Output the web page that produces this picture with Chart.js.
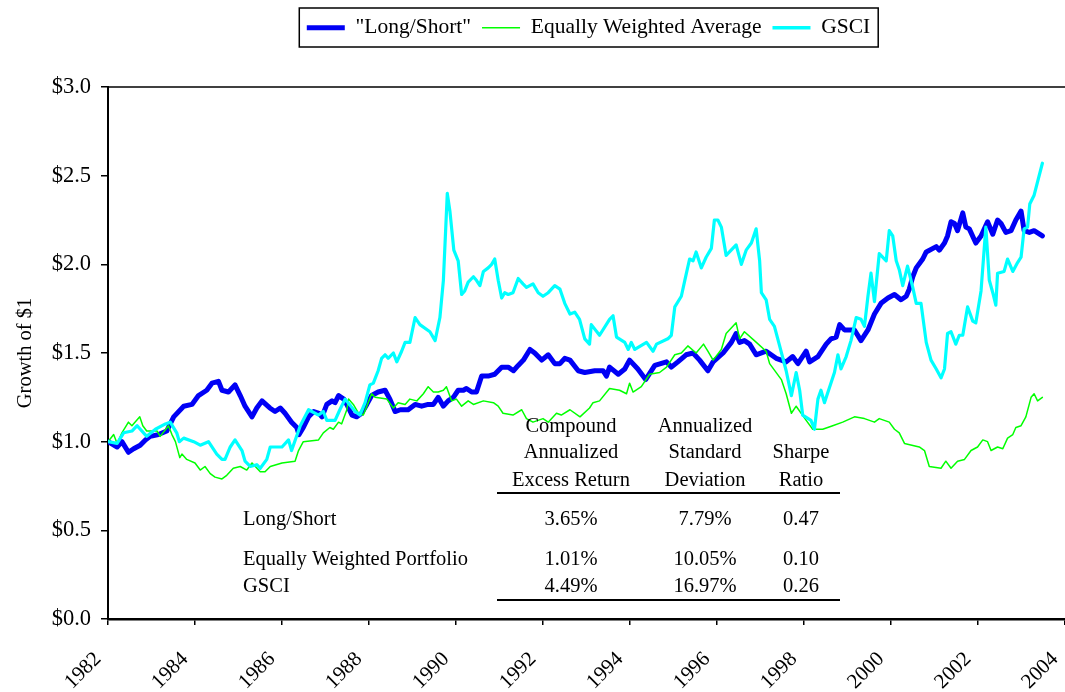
<!DOCTYPE html>
<html>
<head>
<meta charset="utf-8">
<script src="https://cdn.jsdelivr.net/npm/chart.js@4.4.1/dist/chart.umd.min.js"></script>
<style>
  html, body { margin: 0; padding: 0; background: #ffffff; overflow: hidden; }
  #wrap { width: 1065px; height: 692px; }
</style>
</head>
<body>
<div id="wrap"><canvas id="c" width="1065" height="692"></canvas></div>
<script>
// ---------------- DATA ----------------
const seriesNames = ['"Long/Short"', 'Equally Weighted Average', 'GSCI'];

const lsYears = [1982.00,1982.21,1982.32,1982.47,1982.59,1982.74,1982.86,1982.97,1983.16,1983.35,1983.51,1983.74,1983.93,1984.08,1984.27,1984.39,1984.54,1984.62,1984.77,1984.92,1985.04,1985.15,1985.31,1985.42,1985.54,1985.72,1985.84,1985.96,1986.07,1986.22,1986.34,1986.39,1986.49,1986.61,1986.73,1986.85,1986.92,1987.03,1987.15,1987.22,1987.30,1987.42,1987.49,1987.61,1987.72,1987.83,1987.95,1988.06,1988.21,1988.37,1988.48,1988.60,1988.72,1988.90,1989.06,1989.21,1989.36,1989.48,1989.59,1989.71,1989.82,1989.94,1990.05,1990.17,1990.24,1990.36,1990.47,1990.59,1990.74,1990.89,1991.05,1991.20,1991.32,1991.43,1991.55,1991.70,1991.81,1991.97,1992.12,1992.27,1992.39,1992.50,1992.62,1992.81,1992.96,1993.19,1993.38,1993.46,1993.53,1993.73,1993.88,1993.99,1994.18,1994.36,1994.57,1994.84,1994.95,1995.10,1995.29,1995.45,1995.60,1995.79,1995.91,1996.14,1996.33,1996.44,1996.52,1996.63,1996.75,1996.90,1997.13,1997.36,1997.59,1997.74,1997.86,1998.05,1998.13,1998.32,1998.51,1998.62,1998.74,1998.82,1998.93,1999.16,1999.31,1999.47,1999.62,1999.77,1999.93,2000.08,2000.23,2000.35,2000.42,2000.50,2000.58,2000.73,2000.81,2001.04,2001.11,2001.23,2001.30,2001.38,2001.46,2001.53,2001.65,2001.72,2001.80,2001.95,2002.07,2002.22,2002.34,2002.45,2002.53,2002.64,2002.76,2002.87,2002.99,2003.06,2003.18,2003.29,2003.48];
const lsValues = [1.00,0.97,1.00,0.94,0.96,0.98,1.01,1.03,1.04,1.06,1.14,1.20,1.21,1.26,1.29,1.33,1.34,1.29,1.28,1.32,1.26,1.20,1.14,1.19,1.23,1.19,1.17,1.19,1.16,1.11,1.08,1.04,1.08,1.14,1.17,1.16,1.14,1.21,1.23,1.22,1.26,1.24,1.21,1.15,1.14,1.16,1.21,1.26,1.28,1.29,1.24,1.17,1.18,1.18,1.21,1.20,1.21,1.21,1.25,1.20,1.23,1.25,1.29,1.29,1.30,1.28,1.28,1.37,1.37,1.38,1.42,1.42,1.40,1.43,1.46,1.52,1.50,1.46,1.49,1.44,1.44,1.47,1.46,1.40,1.39,1.40,1.40,1.37,1.42,1.38,1.41,1.46,1.41,1.35,1.43,1.45,1.42,1.45,1.49,1.50,1.46,1.40,1.45,1.50,1.56,1.61,1.56,1.57,1.55,1.49,1.51,1.47,1.45,1.48,1.44,1.51,1.45,1.48,1.55,1.58,1.59,1.66,1.63,1.63,1.57,1.63,1.72,1.78,1.81,1.83,1.80,1.82,1.86,1.93,1.98,2.03,2.07,2.10,2.08,2.12,2.16,2.24,2.23,2.19,2.29,2.21,2.20,2.12,2.16,2.24,2.17,2.25,2.23,2.18,2.19,2.25,2.30,2.19,2.18,2.19,2.16];

const ewYears = [1982.00,1982.13,1982.21,1982.32,1982.47,1982.55,1982.73,1982.80,1982.89,1983.13,1983.20,1983.39,1983.47,1983.55,1983.65,1983.70,1983.81,1984.00,1984.12,1984.23,1984.35,1984.46,1984.62,1984.73,1984.88,1985.04,1985.19,1985.31,1985.50,1985.61,1985.73,1986.00,1986.30,1986.38,1986.49,1986.84,1986.95,1987.10,1987.18,1987.30,1987.37,1987.49,1987.53,1987.64,1987.76,1987.87,1987.95,1988.06,1988.14,1988.41,1988.56,1988.67,1988.83,1988.94,1989.10,1989.25,1989.36,1989.48,1989.59,1989.71,1989.78,1989.90,1990.01,1990.13,1990.28,1990.40,1990.63,1990.86,1990.97,1991.08,1991.31,1991.51,1991.62,1991.77,1992.00,1992.12,1992.31,1992.42,1992.62,1992.85,1993.07,1993.15,1993.30,1993.53,1993.76,1993.92,1993.99,1994.07,1994.26,1994.45,1994.68,1994.84,1995.03,1995.18,1995.33,1995.52,1995.69,1995.79,1995.91,1996.10,1996.21,1996.44,1996.52,1996.63,1996.86,1997.13,1997.21,1997.48,1997.59,1997.71,1997.82,1998.05,1998.20,1998.43,1998.66,1998.89,1999.16,1999.39,1999.62,1999.73,1999.96,2000.08,2000.19,2000.31,2000.65,2000.77,2000.88,2001.15,2001.26,2001.38,2001.53,2001.69,2001.84,2001.99,2002.11,2002.22,2002.30,2002.45,2002.57,2002.68,2002.80,2002.87,2002.99,2003.10,2003.22,2003.29,2003.37,2003.48];
const ewValues = [1.00,1.04,0.99,1.05,1.11,1.09,1.14,1.09,1.06,1.06,1.03,1.09,1.04,1.00,0.91,0.93,0.90,0.88,0.84,0.86,0.82,0.80,0.79,0.81,0.85,0.86,0.84,0.88,0.83,0.83,0.86,0.88,0.89,0.95,1.00,1.01,1.05,1.08,1.07,1.11,1.10,1.18,1.24,1.21,1.16,1.15,1.20,1.27,1.25,1.24,1.19,1.22,1.21,1.24,1.23,1.27,1.31,1.28,1.28,1.29,1.31,1.23,1.24,1.20,1.23,1.21,1.23,1.22,1.20,1.16,1.15,1.18,1.13,1.11,1.13,1.11,1.16,1.15,1.18,1.14,1.19,1.22,1.23,1.30,1.29,1.27,1.33,1.28,1.31,1.38,1.39,1.42,1.49,1.50,1.54,1.50,1.55,1.51,1.46,1.52,1.61,1.67,1.58,1.62,1.57,1.51,1.44,1.35,1.27,1.16,1.20,1.12,1.07,1.07,1.09,1.11,1.14,1.13,1.11,1.13,1.11,1.07,1.05,0.99,0.97,0.95,0.86,0.85,0.89,0.85,0.89,0.90,0.95,0.97,1.01,1.00,0.95,0.97,0.96,1.02,1.04,1.08,1.09,1.14,1.25,1.27,1.23,1.25];

const gsYears = [1982.00,1982.21,1982.36,1982.55,1982.67,1982.89,1983.09,1983.32,1983.43,1983.58,1983.64,1983.74,1983.97,1984.12,1984.31,1984.50,1984.62,1984.69,1984.81,1984.92,1985.08,1985.15,1985.27,1985.42,1985.50,1985.65,1985.73,1986.00,1986.15,1986.22,1986.42,1986.61,1986.84,1986.95,1987.03,1987.22,1987.33,1987.45,1987.68,1987.79,1987.91,1988.02,1988.10,1988.21,1988.29,1988.37,1988.44,1988.56,1988.64,1988.75,1988.83,1988.94,1989.06,1989.17,1989.40,1989.52,1989.63,1989.71,1989.80,1989.86,1989.95,1990.05,1990.13,1990.20,1990.28,1990.40,1990.47,1990.55,1990.63,1990.74,1990.82,1990.89,1990.97,1991.05,1991.12,1991.20,1991.31,1991.43,1991.54,1991.62,1991.77,1991.89,1992.00,1992.12,1992.27,1992.39,1992.50,1992.62,1992.73,1992.84,1992.96,1993.07,1993.11,1993.30,1993.53,1993.61,1993.69,1993.88,1993.96,1994.03,1994.11,1994.38,1994.53,1994.61,1994.87,1994.95,1995.03,1995.18,1995.26,1995.37,1995.45,1995.52,1995.64,1995.75,1995.87,1995.94,1996.02,1996.10,1996.21,1996.44,1996.56,1996.67,1996.79,1996.90,1996.98,1997.02,1997.13,1997.21,1997.32,1997.44,1997.59,1997.71,1997.82,1997.90,1997.97,1998.16,1998.24,1998.32,1998.39,1998.47,1998.70,1998.78,1998.85,1998.97,1999.08,1999.20,1999.31,1999.39,1999.47,1999.54,1999.62,1999.73,1999.89,1999.96,2000.04,2000.12,2000.19,2000.27,2000.38,2000.50,2000.58,2000.69,2000.81,2000.92,2001.04,2001.15,2001.23,2001.30,2001.38,2001.49,2001.57,2001.65,2001.76,2001.88,2001.95,2002.07,2002.18,2002.26,2002.34,2002.41,2002.45,2002.60,2002.68,2002.80,2002.91,2002.99,2003.06,2003.14,2003.19,2003.29,2003.48];
const gsValues = [1.00,0.99,1.05,1.06,1.09,1.03,1.07,1.10,1.11,1.05,1.00,1.02,1.00,0.98,1.00,0.93,0.90,0.90,0.97,1.01,0.95,0.89,0.86,0.87,0.85,0.90,0.97,0.97,1.01,0.95,1.09,1.18,1.15,1.17,1.12,1.12,1.18,1.24,1.17,1.15,1.22,1.32,1.33,1.40,1.47,1.49,1.47,1.50,1.45,1.51,1.56,1.56,1.70,1.66,1.62,1.57,1.70,1.91,2.40,2.30,2.08,2.02,1.83,1.85,1.90,1.93,1.91,1.88,1.96,1.98,2.00,2.03,1.91,1.81,1.84,1.83,1.84,1.92,1.89,1.87,1.89,1.84,1.82,1.84,1.88,1.86,1.78,1.72,1.73,1.69,1.58,1.55,1.66,1.60,1.69,1.71,1.59,1.56,1.52,1.56,1.52,1.56,1.51,1.55,1.58,1.60,1.76,1.82,1.91,2.03,2.02,2.07,1.98,2.04,2.09,2.25,2.25,2.21,2.05,2.11,2.00,2.08,2.12,2.20,2.02,1.84,1.80,1.69,1.65,1.54,1.40,1.26,1.39,1.29,1.15,1.12,1.07,1.24,1.29,1.22,1.39,1.49,1.41,1.48,1.57,1.70,1.69,1.65,1.82,1.95,1.79,2.06,2.02,2.19,2.16,2.02,1.97,1.88,1.99,1.87,1.78,1.78,1.56,1.46,1.41,1.36,1.41,1.61,1.62,1.55,1.60,1.60,1.76,1.68,1.67,1.85,2.21,1.91,1.84,1.77,1.95,1.96,2.03,1.96,2.01,2.04,2.20,2.21,2.34,2.39,2.57];

const xTickYears = [1982,1984,1986,1988,1990,1992,1994,1996,1998,2000,2002,2004];
const yTickValues = [0,0.5,1,1.5,2,2.5,3];

const tableHeaders = [['Compound','Annualized','Excess Return'], ['Annualized','Standard','Deviation'], ['Sharpe','Ratio']];
const tableRows = ['Long/Short', 'Equally Weighted Portfolio', 'GSCI'];
const tableReturn = ['3.65%', '1.01%', '4.49%'];
const tableStdDev = ['7.79%', '10.05%', '16.97%'];
const tableSharpe = ['0.47', '0.10', '0.26'];

// ---------------- CHART ----------------
const FONT = '"Liberation Serif", "Times New Roman", serif';
Chart.defaults.font.family = FONT;
Chart.defaults.color = '#000';

function pts(xs, ys) { return xs.map((x, i) => ({ x: x, y: ys[i] })); }

const tablePlugin = {
  id: 'statsTable',
  afterDatasetsDraw(chart) {
    const ctx = chart.ctx;
    ctx.save();
    ctx.fillStyle = '#000';
    ctx.font = '20.5px ' + FONT;
    ctx.textBaseline = 'middle';
    const colX = [571, 705, 801];
    const headY = [[427, 453, 481], [427, 453, 481], [453, 481]];
    ctx.textAlign = 'center';
    tableHeaders.forEach((col, c) => col.forEach((t, r) => ctx.fillText(t, colX[c], headY[c][r])));
    const rowY = [520, 560, 587];
    tableRows.forEach((t, r) => {
      ctx.textAlign = 'left';
      ctx.fillText(t, 243, rowY[r]);
      ctx.textAlign = 'center';
      ctx.fillText(tableReturn[r], colX[0], rowY[r]);
      ctx.fillText(tableStdDev[r], colX[1], rowY[r]);
      ctx.fillText(tableSharpe[r], colX[2], rowY[r]);
    });
    ctx.strokeStyle = '#000';
    ctx.lineWidth = 2;
    [493, 600].forEach(y => {
      ctx.beginPath(); ctx.moveTo(497, y); ctx.lineTo(840, y); ctx.stroke();
    });
    ctx.restore();
  }
};

const framePlugin = {
  id: 'frame',
  afterLayout(chart) {
    const lg = chart.legend;
    if (lg) {
      lg.left += 112;
      const h = lg.height;
      lg.top = 6;
      lg.bottom = 6 + h;
    }
  },
  afterDraw(chart) {
    const ctx = chart.ctx;
    const a = chart.chartArea;
    ctx.save();
    ctx.strokeStyle = '#000';
    ctx.lineWidth = 1.5;
    ctx.beginPath(); ctx.moveTo(a.left, a.top); ctx.lineTo(a.right, a.top); ctx.stroke();
    const hb = chart.legend && chart.legend.legendHitBoxes;
    if (hb && hb.length) {
      const l = hb[0].left - 7.5;
      const last = hb[hb.length - 1];
      const r = last.left + last.width + 8;
      const t = hb[0].top - 9;
      const b = hb[0].top + hb[0].height + 8.5;
      ctx.lineWidth = 1.5;
      ctx.strokeRect(l, t, r - l, b - t);
    }
    ctx.restore();
  }
};

new Chart(document.getElementById('c'), {
  type: 'line',
  data: {
    datasets: [
      { label: seriesNames[0], data: pts(lsYears, lsValues), borderColor: '#0000F5', backgroundColor: '#0000F5', borderWidth: 5, order: 2 },
      { label: seriesNames[1], data: pts(ewYears, ewValues), borderColor: '#00FF00', backgroundColor: '#00FF00', borderWidth: 1.5, order: 1 },
      { label: seriesNames[2], data: pts(gsYears, gsValues), borderColor: '#00FFFF', backgroundColor: '#00FFFF', borderWidth: 3.2, order: 0 }
    ]
  },
  options: {
    responsive: false,
    animation: false,
    devicePixelRatio: 1,
    layout: { padding: { top: 4, left: 0, right: 0, bottom: 0 } },
    elements: {
      point: { radius: 0, hoverRadius: 0 },
      line: { tension: 0, borderJoinStyle: 'round', borderCapStyle: 'round', fill: false }
    },
    plugins: {
      tooltip: { enabled: false },
      title: { display: false },
      legend: {
        display: true,
        position: 'top',
        align: 'center',
        labels: {
          usePointStyle: true,
          pointStyle: 'line',
          pointStyleWidth: 38,
          padding: 11,
          color: '#000',
          font: { size: 21.5, family: FONT },
          sort: (a, b) => a.datasetIndex - b.datasetIndex,
          generateLabels(chart) {
            const items = Chart.defaults.plugins.legend.labels.generateLabels(chart);
            items.forEach(it => {
              const ds = chart.data.datasets[it.datasetIndex];
              it.lineWidth = it.datasetIndex === 0 ? 5 : (it.datasetIndex === 1 ? 1.5 : 3.5);
              it.strokeStyle = ds.borderColor;
              it.fillStyle = ds.borderColor;
              it.pointStyle = 'line';
              it.lineCap = 'butt';
            });
            return items;
          }
        }
      }
    },
    scales: {
      x: {
        type: 'linear',
        min: 1982,
        max: 2004,
        afterBuildTicks(scale) { scale.ticks = xTickYears.map(v => ({ value: v })); },
        afterFit(scale) { scale.height = 73; scale.paddingLeft = 0; scale.paddingRight = 0; },
        ticks: {
          callback: v => String(v),
          minRotation: 45,
          maxRotation: 45,
          padding: 22,
          labelOffset: -10,
          color: '#000',
          font: { size: 21, family: FONT }
        },
        grid: { display: true, drawOnChartArea: false, drawTicks: true, tickLength: 6, color: '#000', lineWidth: 1.5 },
        border: { display: true, color: '#000', width: 2.5 }
      },
      y: {
        type: 'linear',
        min: 0,
        max: 3,
        afterBuildTicks(scale) { scale.ticks = yTickValues.map(v => ({ value: v })); },
        afterFit(scale) { scale.width = 108; scale.paddingTop = 87; scale.paddingBottom = 0; },
        ticks: {
          callback: v => '$' + Number(v).toFixed(1),
          padding: 10,
          color: '#000',
          font: { size: 22.5, family: FONT }
        },
        title: {
          display: true,
          text: 'Growth of $1',
          color: '#000',
          font: { size: 20.5, family: FONT },
          padding: { top: 13, bottom: 0 }
        },
        grid: { display: true, drawOnChartArea: false, drawTicks: true, tickLength: 7, color: '#000', lineWidth: 1.5 },
        border: { display: true, color: '#000', width: 2 }
      }
    }
  },
  plugins: [tablePlugin, framePlugin]
});
</script>
</body>
</html>
